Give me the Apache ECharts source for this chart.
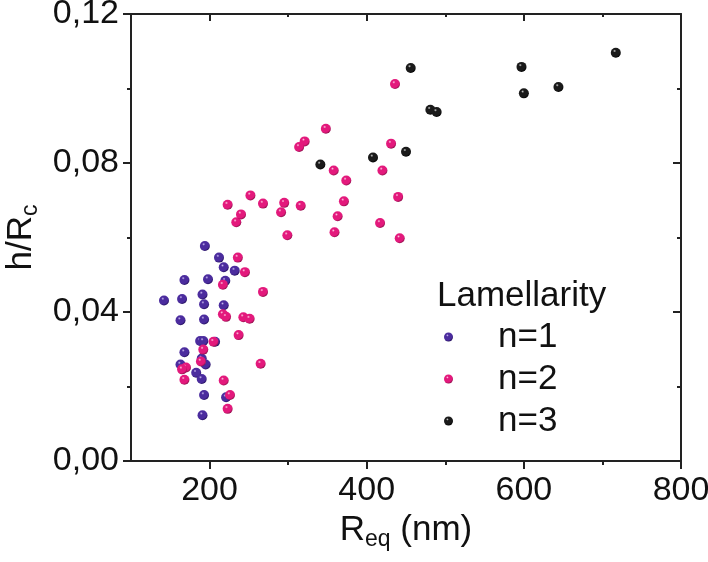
<!DOCTYPE html>
<html><head><meta charset="utf-8">
<script src="https://cdn.jsdelivr.net/npm/echarts@6/dist/echarts.min.js"></script>
<style>html,body{margin:0;padding:0;background:#fff}#c{width:708px;height:562px}</style>
</head><body><div id="c"></div>
<script>
const seriesNames = ['n=1', 'n=2', 'n=3'];
const n1 = [[194,0.0577],[212,0.0546],[218,0.0520],[232,0.0511],[168,0.0486],[198,0.0488],[220,0.0484],[142,0.0431],[165,0.0435],[191,0.0447],[193,0.0421],[218,0.0418],[163,0.0378],[193,0.0380],[188,0.0322],[192,0.0322],[207,0.0320],[168,0.0292],[163,0.0259],[190,0.0275],[195,0.0259],[183,0.0237],[190,0.0220],[193,0.0177],[221,0.0171],[191,0.0123]];
const n2 = [[234,0.0641],[299,0.0606],[236,0.0546],[245,0.0507],[217,0.0473],[268,0.0454],[217,0.0394],[221,0.0387],[243,0.0386],[251,0.0382],[237,0.0338],[205,0.0320],[192,0.0299],[189,0.0267],[170,0.0251],[165,0.0246],[168,0.0218],[265,0.0261],[218,0.0216],[226,0.0177],[223,0.0140],[436,0.1012],[348,0.0892],[321,0.0858],[314,0.0843],[431,0.0852],[358,0.0780],[374,0.0753],[420,0.0780],[440,0.0709],[371,0.0697],[363,0.0657],[359,0.0614],[417,0.0639],[442,0.0598],[252,0.0713],[223,0.0688],[268,0.0691],[295,0.0693],[316,0.0685],[240,0.0662],[291,0.0668]];
const n3 = [[456,0.1055],[481,0.0943],[489,0.0937],[450,0.0830],[408,0.0815],[341,0.0796],[597,0.1058],[600,0.0987],[644,0.1004],[717,0.1096]];
const xMajorTicks = [200, 400, 600, 800];
const xMinorTicks = [300, 500, 700];
const legendTitle = 'Lamellarity';

const FONT = 'Arial, "Liberation Sans", sans-serif';
const AX = '#222';
function sphere(hi, base, edge) {
  return new echarts.graphic.RadialGradient(0.38, 0.32, 0.7, [
    {offset: 0, color: hi}, {offset: 0.22, color: base}, {offset: 0.75, color: base}, {offset: 1, color: edge}
  ]);
}
const styles = [
  sphere('#c9b8f0', '#4b2c9e', '#24105e'),
  sphere('#ffc8e2', '#e3197c', '#90104c'),
  sphere('#d0d0d0', '#1a1a1a', '#000000')
];
const datasets = [n1, n2, n3];

const chart = echarts.init(document.getElementById('c'), null, {renderer: 'canvas'});
const lineStyle = {color: AX, width: 2};
chart.setOption({
  animation: false,
  textStyle: {fontFamily: FONT},
  title: {text: legendTitle, left: 432, top: 274, textStyle: {fontFamily: FONT, fontSize: 35, fontWeight: 'normal', color: '#111'}},
  legend: {
    orient: 'vertical', left: 439, top: 313, itemWidth: 9, itemHeight: 9, itemGap: 4,
    icon: 'circle',
    textStyle: {fontFamily: FONT, fontSize: 35, color: '#111', padding: [0, 0, 0, 40], lineHeight: 38},
    data: seriesNames
  },
  grid: {left: 131, right: 27, top: 14, bottom: 101, containLabel: false, outerBoundsMode: 'none'},
  xAxis: [
    {type: 'value', min: 100, max: 800, position: 'bottom',
      name: '{a|R}{s|eq}{a| (nm)}', nameLocation: 'middle', nameGap: 47,
      nameTextStyle: {rich: {a: {fontFamily: FONT, fontSize: 35, color: '#111'}, s: {fontFamily: FONT, fontSize: 23, color: '#111', padding: [18, 0, 0, 0]}}},
      axisLine: {lineStyle}, splitLine: {show: false},
      axisTick: {customValues: xMajorTicks, length: 8, lineStyle},
      axisLabel: {customValues: xMajorTicks, fontSize: 34, color: '#111', margin: 13, fontFamily: FONT}},
    {type: 'value', min: 100, max: 800, position: 'bottom',
      axisLine: {show: false}, splitLine: {show: false},
      axisTick: {customValues: xMinorTicks, length: 4, lineStyle},
      axisLabel: {show: false}},
    {type: 'value', min: 100, max: 800, position: 'top',
      axisLine: {lineStyle}, splitLine: {show: false},
      axisTick: {customValues: xMajorTicks, inside: true, length: 7, lineStyle},
      axisLabel: {show: false}},
    {type: 'value', min: 100, max: 800, position: 'top',
      axisLine: {show: false}, splitLine: {show: false},
      axisTick: {customValues: xMinorTicks, inside: true, length: 3, lineStyle},
      axisLabel: {show: false}}
  ],
  yAxis: [
    {type: 'value', min: 0, max: 0.12, interval: 0.04, position: 'left',
      name: '{a|h/R}{s|c}', nameLocation: 'middle', nameRotate: 90, nameGap: 84,
      nameTextStyle: {rich: {a: {fontFamily: FONT, fontSize: 35, color: '#111'}, s: {fontFamily: FONT, fontSize: 23, color: '#111', padding: [18, 0, 0, 0]}}},
      axisLine: {lineStyle}, splitLine: {show: false},
      axisTick: {length: 8, lineStyle},
      minorTick: {show: true, splitNumber: 2, length: 4, lineStyle},
      axisLabel: {fontSize: 34, color: '#111', margin: 12, fontFamily: FONT, formatter: v => v.toFixed(2).replace('.', ',')}},
    {type: 'value', min: 0, max: 0.12, interval: 0.04, position: 'right',
      axisLine: {lineStyle}, splitLine: {show: false},
      axisTick: {inside: true, length: 8, lineStyle},
      minorTick: {show: true, splitNumber: 2, length: 4, lineStyle},
      axisLabel: {show: false}}
  ],
  series: datasets.map((d, i) => ({
    type: 'scatter', name: seriesNames[i], data: d, xAxisIndex: 0, yAxisIndex: 0,
    symbolSize: 10, itemStyle: {color: styles[i], opacity: 1}
  }))
});
</script></body></html>
